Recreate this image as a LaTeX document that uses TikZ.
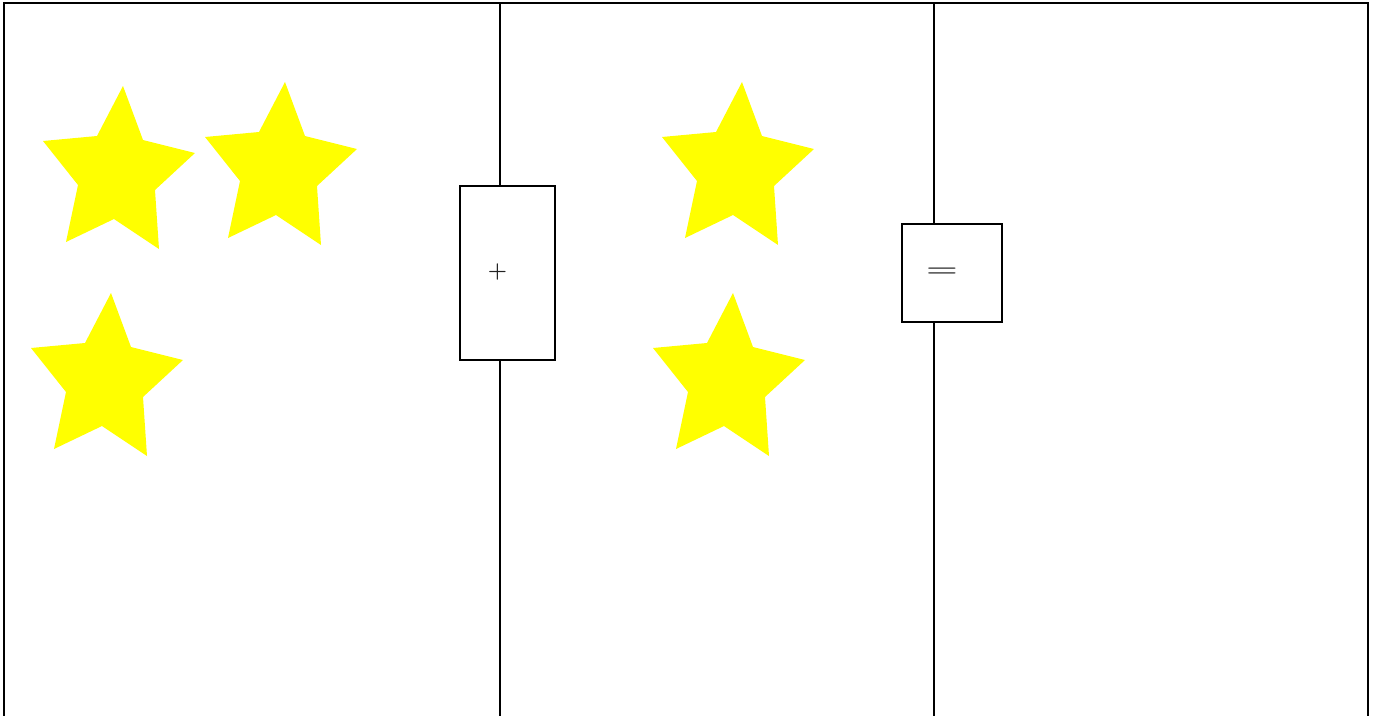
\documentclass[tikz,border=0pt]{standalone}
\usepackage{xcolor}
\usepackage{tikz}
\usetikzlibrary{positioning}
\definecolor{staryellow}{HTML}{FFFF00}
\definecolor{signgray}{HTML}{222222}

\begin{document}
\begin{tikzpicture}[
			x=1pt,
			y=-1pt,
			line width=1.5pt,
			line cap=butt,
			line join=miter,
			opbox/.style={draw,rectangle,inner sep=0pt,line width=1.5pt},
			opsign/.style={text=signgray,inner sep=0pt,font=\fontsize{22}{22}\selectfont\bfseries},
			star/.pic={
				\fill[staryellow] (0,0) -- (20,54) -- (72,67) -- (32,104) -- (36,163)
				-- (-9,133) -- (-57,156) -- (-45,99) -- (-80,55) -- (-26,50) -- cycle;
			}
			]
			
			% Page size of the reference
			\useasboundingbox (0,0) rectangle (1373,715);
			
			%------------------------------
			% Frame and the two dividing lines
			%------------------------------
			\draw (4,717) -- (4,3) -- (1368,3) -- (1368,717);
			\coordinate (ltop) at (500,3);
			\coordinate (lbot) at (500,717);
			\coordinate (rtop) at (934,3);
			\coordinate (rbot) at (934,717);
			
			% Operator boxes
			\node[opbox, minimum width=95pt, minimum height=174pt] (plusbox) at (507.5,273) {};
			\node[opbox, minimum width=100pt, minimum height=98pt] (eqbox) at (952,273) {};
			\node[opsign] (plus) at (497.5,272) {+};
			\node[opsign] (equal) at (942,272) {\scalebox{1.65}[1]{=}};
			
			\draw (ltop) -- (ltop |- plusbox.north);
			\draw (lbot) -- (lbot |- plusbox.south);
			\draw (rtop) -- (rtop |- eqbox.north);
			\draw (rbot) -- (rbot |- eqbox.south);
			
			%------------------------------
			% Stars (top tip of each)
			%------------------------------
			\foreach \sx/\sy in {123/86, 285/82, 111/293, 742/82, 733/293}{
				\pic at (\sx,\sy) {star};
			}
		\end{tikzpicture}
\end{document}
